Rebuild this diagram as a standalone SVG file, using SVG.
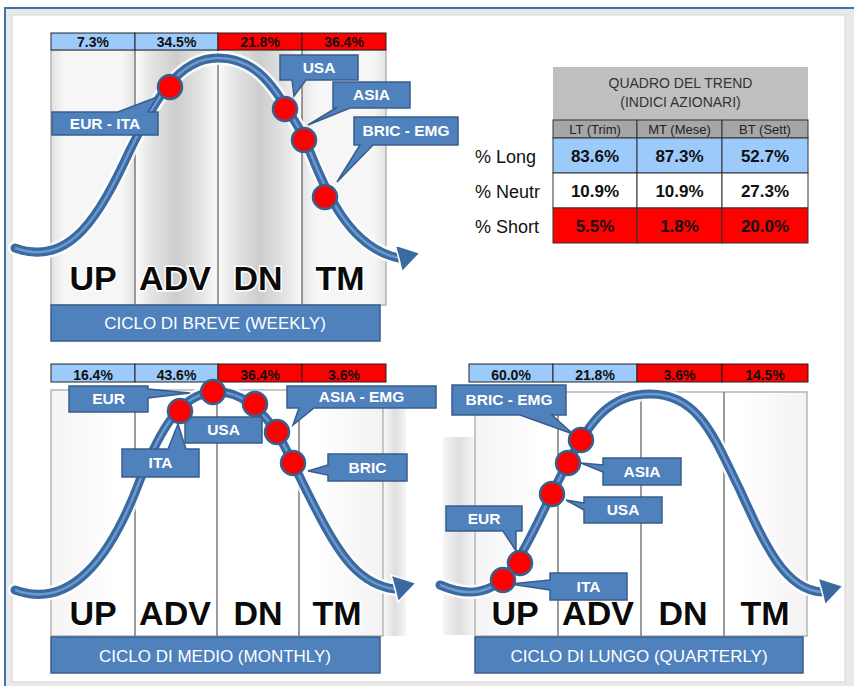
<svg xmlns="http://www.w3.org/2000/svg" width="854" height="686" viewBox="0 0 854 686">
<defs>
<linearGradient id="colG" x1="0" y1="0" x2="1" y2="0">
<stop offset="0" stop-color="#fbfbfb"/><stop offset="0.2" stop-color="#e4e4e4"/><stop offset="0.5" stop-color="#cdcdcd"/><stop offset="0.8" stop-color="#e4e4e4"/><stop offset="1" stop-color="#fbfbfb"/>
</linearGradient>
<linearGradient id="colL" x1="0" y1="0" x2="1" y2="0">
<stop offset="0" stop-color="#e2e2e2"/><stop offset="0.15" stop-color="#f6f6f6"/><stop offset="0.85" stop-color="#f6f6f6"/><stop offset="1" stop-color="#e2e2e2"/>
</linearGradient>
<linearGradient id="colW" x1="0" y1="0" x2="1" y2="0">
<stop offset="0" stop-color="#f4f4f4"/><stop offset="0.2" stop-color="#ffffff"/><stop offset="0.8" stop-color="#ffffff"/><stop offset="1" stop-color="#f2f2f2"/>
</linearGradient>
<linearGradient id="strip" x1="0" y1="0" x2="1" y2="0">
<stop offset="0" stop-color="#f4f4f4"/><stop offset="0.5" stop-color="#d6d6d6"/><stop offset="1" stop-color="#f4f4f4"/>
</linearGradient>
<style>
.pct{font-family:"Liberation Sans",Arial,sans-serif;font-weight:bold;font-size:14px;text-anchor:middle;fill:#111}
.blu{fill:#9ccbfb;stroke:#222;stroke-width:1}
.red{fill:#ff0000;stroke:#222;stroke-width:1}
.colLine{stroke:#7a7a7a;stroke-width:1.5}
.colOut{fill:none;stroke:#b5b5b5;stroke-width:1.5}
.phase{font-family:"Liberation Sans",Arial,sans-serif;font-weight:bold;font-size:34px;text-anchor:middle;fill:#0a0a0a;stroke:#ffffff;stroke-width:3;paint-order:stroke}
.title{fill:#4f81bd;stroke:#385d8a;stroke-width:1.5}
.tt{font-family:"Liberation Sans",Arial,sans-serif;font-size:17px;text-anchor:middle;fill:#ffffff}
.halo{fill:none;stroke:#ffffff;stroke-width:14;stroke-opacity:0.85;stroke-linecap:round}
.curve{fill:none;stroke:#3b6aa0;stroke-width:9;stroke-linecap:round}
.hi{fill:none;stroke:#6a98cf;stroke-width:2.5}
.head{fill:#3b6aa0;stroke:#ffffff;stroke-width:1.5;stroke-linejoin:round}
.co{fill:#4f81bd;stroke:#385d8a;stroke-width:1.5;stroke-linejoin:miter}
.cot{font-family:"Liberation Sans",Arial,sans-serif;font-weight:bold;font-size:15.5px;text-anchor:middle;fill:#ffffff}
.dot{fill:#ff0000;stroke:#34618f;stroke-width:2.5}
.tb{font-family:"Liberation Sans",Arial,sans-serif;font-size:14px;text-anchor:middle;fill:#333}
.ts{font-family:"Liberation Sans",Arial,sans-serif;font-size:13px;text-anchor:middle;fill:#222}
.tv{font-family:"Liberation Sans",Arial,sans-serif;font-weight:bold;font-size:17px;text-anchor:middle;fill:#111}
.tl{font-family:"Liberation Sans",Arial,sans-serif;font-size:18px;fill:#111}
.cell{stroke:#333;stroke-width:1}
</style>
</defs>

<!-- frame -->
<rect x="0" y="0" width="854" height="686" fill="#ffffff"/>
<rect x="5" y="8" width="870" height="700" fill="#e9e9e9" stroke="#4272a8" stroke-width="2"/>
<rect x="12" y="15" width="833" height="667" fill="#ffffff" stroke="#d4d4d4" stroke-width="1"/>

<!-- ===== Panel 1: weekly ===== -->
<g id="panel-weekly">
<rect x="51" y="50" width="84" height="255" fill="url(#colL)"/>
<rect x="135" y="50" width="83" height="255" fill="url(#colG)"/>
<rect x="218" y="50" width="84" height="255" fill="url(#colG)"/>
<rect x="302" y="50" width="84" height="255" fill="url(#colL)"/>
<rect x="51" y="50" width="335" height="255" class="colOut"/>
<line x1="135" y1="50" x2="135" y2="305" class="colLine"/>
<line x1="218" y1="50" x2="218" y2="305" class="colLine"/>
<line x1="302" y1="50" x2="302" y2="305" class="colLine"/>
<rect x="51" y="33" width="84" height="17" class="blu"/>
<rect x="135" y="33" width="83" height="17" class="blu"/>
<rect x="218" y="33" width="84" height="17" class="red"/>
<rect x="302" y="33" width="84" height="17" class="red"/>
<text x="93" y="47" class="pct">7.3%</text>
<text x="176.5" y="47" class="pct">34.5%</text>
<text x="260" y="47" class="pct">21.8%</text>
<text x="344" y="47" class="pct">36.4%</text>
<text x="93" y="290" class="phase">UP</text>
<text x="175" y="290" class="phase">ADV</text>
<text x="258" y="290" class="phase">DN</text>
<text x="340" y="290" class="phase">TM</text>
</g>
<g id="title-weekly">
<rect x="51" y="305" width="329" height="36" class="title"/>
<text x="215" y="329" class="tt">CICLO DI BREVE (WEEKLY)</text>
</g>

<!-- ===== Panel 2: monthly ===== -->
<g id="panel-monthly">
<rect x="384" y="402" width="22" height="234" fill="url(#strip)" opacity="0.8"/>
<rect x="51" y="390" width="332" height="246" fill="url(#colW)"/>
<rect x="51" y="390" width="332" height="246" class="colOut"/>
<line x1="135" y1="390" x2="135" y2="636" class="colLine"/>
<line x1="217" y1="390" x2="217" y2="636" class="colLine"/>
<line x1="299" y1="390" x2="299" y2="636" class="colLine"/>
<rect x="51" y="364" width="84" height="18" class="blu"/>
<rect x="135" y="364" width="83" height="18" class="blu"/>
<rect x="218" y="364" width="84" height="18" class="red"/>
<rect x="302" y="364" width="84" height="18" class="red"/>
<text x="93" y="380" class="pct">16.4%</text>
<text x="176.5" y="380" class="pct">43.6%</text>
<text x="260" y="380" class="pct">36.4%</text>
<text x="344" y="380" class="pct">3.6%</text>
<text x="93" y="625" class="phase">UP</text>
<text x="175" y="625" class="phase">ADV</text>
<text x="258" y="625" class="phase">DN</text>
<text x="337" y="625" class="phase">TM</text>
</g>
<g id="title-monthly">
<rect x="51" y="637" width="329" height="36" class="title"/>
<text x="215" y="662" class="tt">CICLO DI MEDIO (MONTHLY)</text>
</g>

<!-- ===== Panel 3: quarterly ===== -->
<g id="panel-quarterly">
<rect x="443" y="437" width="32" height="198" fill="url(#strip)" opacity="0.8"/>
<rect x="475" y="392" width="332" height="244" fill="url(#colW)"/>
<rect x="475" y="392" width="332" height="244" class="colOut"/>
<line x1="558" y1="392" x2="558" y2="636" class="colLine"/>
<line x1="641" y1="392" x2="641" y2="636" class="colLine"/>
<line x1="724" y1="392" x2="724" y2="636" class="colLine"/>
<rect x="469" y="364" width="84" height="18" class="blu"/>
<rect x="553" y="364" width="84" height="18" class="blu"/>
<rect x="637" y="364" width="85" height="18" class="red"/>
<rect x="722" y="364" width="86" height="18" class="red"/>
<text x="511" y="380" class="pct">60.0%</text>
<text x="595" y="380" class="pct">21.8%</text>
<text x="679.5" y="380" class="pct">3.6%</text>
<text x="765" y="380" class="pct">14.5%</text>
<text x="515" y="625" class="phase">UP</text>
<text x="598" y="625" class="phase">ADV</text>
<text x="683" y="625" class="phase">DN</text>
<text x="765" y="625" class="phase">TM</text>
</g>
<g id="title-quarterly">
<rect x="475" y="637" width="328" height="36" class="title"/>
<text x="639" y="662" class="tt">CICLO DI LUNGO (QUARTERLY)</text>
</g>

<!-- ===== Connectors: cycle curves ===== -->
<g id="connectors">
<path class="halo" d="M15,248 C70,268 100,215 130,150 C155,100 178,58 218,58 C258,58 275,88 300,130 C315,155 335,245 399,258"/>
<path class="curve" d="M15,248 C70,268 100,215 130,150 C155,100 178,58 218,58 C258,58 275,88 300,130 C315,155 335,245 399,258"/>
<path class="hi" d="M15,248 C70,268 100,215 130,150 C155,100 178,58 218,58 C258,58 275,88 300,130 C315,155 335,245 399,258"/>
<polygon class="head" points="420,253 395,245 399,259 402,272"/>

<path class="halo" d="M15,590 C70,610 110,560 140,480 C160,430 180,395 213,392 C240,390 262,410 277,433 C288,450 300,480 320,517 C340,555 360,585 395,589"/>
<path class="curve" d="M15,590 C70,610 110,560 140,480 C160,430 180,395 213,392 C240,390 262,410 277,433 C288,450 300,480 320,517 C340,555 360,585 395,589"/>
<path class="hi" d="M15,590 C70,610 110,560 140,480 C160,430 180,395 213,392 C240,390 262,410 277,433 C288,450 300,480 320,517 C340,555 360,585 395,589"/>
<polygon class="head" points="416,583 391,575 395,589 398,602"/>

<path class="halo" d="M440,585 C470,598 490,592 505,577 C525,555 545,505 565,468 C590,420 610,394 650,394 C700,394 715,440 740,490 C765,545 785,590 822,592"/>
<path class="curve" d="M440,585 C470,598 490,592 505,577 C525,555 545,505 565,468 C590,420 610,394 650,394 C700,394 715,440 740,490 C765,545 785,590 822,592"/>
<path class="hi" d="M440,585 C470,598 490,592 505,577 C525,555 545,505 565,468 C590,420 610,394 650,394 C700,394 715,440 740,490 C765,545 785,590 822,592"/>
<polygon class="head" points="843,586 818,578 822,592 825,605"/>
</g>

<!-- ===== Callouts ===== -->
<g id="w-eur-ita"><path class="co" d="M52,112 H118 L157,97 L148,112 H158 V135 H52 Z"/><text x="105" y="129" class="cot">EUR - ITA</text></g>
<g id="w-usa"><path class="co" d="M280,55 H358 V80 H306 L294,96 L292,80 H280 Z"/><text x="319" y="73" class="cot">USA</text></g>
<g id="w-asia"><path class="co" d="M333,82 H410 V108 H350 L308,125 L336,108 H333 Z"/><text x="371.5" y="100" class="cot">ASIA</text></g>
<g id="w-bric-emg"><path class="co" d="M354,117 H458 V145 H373 L337,182 L360,145 H354 Z"/><text x="406" y="136" class="cot">BRIC - EMG</text></g>

<g id="m-eur"><path class="co" d="M69,386 H148 V389 L190,393 L148,398 V412 H69 Z"/><text x="108.5" y="404" class="cot">EUR</text></g>
<g id="m-ita"><path class="co" d="M122,449 H168 L178,424 L186,449 H199 V477 H122 Z"/><text x="160.5" y="468" class="cot">ITA</text></g>
<g id="m-usa"><path class="co" d="M185,417 H262 V443 H185 Z"/><text x="223.5" y="435" class="cot">USA</text></g>
<g id="m-asia-emg"><path class="co" d="M287,386 H436 V408 H314 L293,425 L299,408 H287 Z"/><text x="361.5" y="402" class="cot">ASIA - EMG</text></g>
<g id="m-bric"><path class="co" d="M328,454 H407 V481 H328 V475 L308,471 L328,465 Z"/><text x="367.5" y="473" class="cot">BRIC</text></g>

<g id="q-bric-emg"><path class="co" d="M452,385 H566 V415 H552 L573,434 L520,415 H452 Z"/><text x="509" y="405" class="cot">BRIC - EMG</text></g>
<g id="q-asia"><path class="co" d="M603,458 H681 V485 H603 V472 L581,463 L603,465 Z"/><text x="642" y="477" class="cot">ASIA</text></g>
<g id="q-usa"><path class="co" d="M584,497 H662 V523 H584 V510 L566,500 L584,503 Z"/><text x="623" y="515" class="cot">USA</text></g>
<g id="q-eur"><path class="co" d="M446,506 H522 V531 H516 L516,551 L503,531 H446 Z"/><text x="484" y="524" class="cot">EUR</text></g>
<g id="q-ita"><path class="co" d="M550,573 H627 V600 H550 V590 L510,584 L550,580 Z"/><text x="588.5" y="592" class="cot">ITA</text></g>

<!-- ===== Dots ===== -->
<g id="dots-weekly">
<circle class="dot" cx="170" cy="87" r="12"/>
<circle class="dot" cx="285" cy="109" r="12"/>
<circle class="dot" cx="304" cy="140" r="12"/>
<circle class="dot" cx="325" cy="197" r="12"/>
</g>
<g id="dots-monthly">
<circle class="dot" cx="213" cy="392" r="12"/>
<circle class="dot" cx="180" cy="411" r="12"/>
<circle class="dot" cx="255" cy="404" r="12"/>
<circle class="dot" cx="277" cy="432" r="12"/>
<circle class="dot" cx="293" cy="463" r="12"/>
</g>
<g id="dots-quarterly">
<circle class="dot" cx="581" cy="440" r="12"/>
<circle class="dot" cx="568" cy="463" r="12"/>
<circle class="dot" cx="552" cy="494" r="12"/>
<circle class="dot" cx="520" cy="563" r="12"/>
<circle class="dot" cx="503" cy="580" r="12"/>
</g>

<!-- ===== Trend table ===== -->
<g id="trend-table">
<rect x="553" y="67" width="255" height="53" fill="#bfbfbf"/>
<text x="680.5" y="88" class="tb">QUADRO DEL TREND</text>
<text x="680.5" y="107" class="tb">(INDICI AZIONARI)</text>
<rect x="553" y="120" width="84" height="18" fill="#a6a6a6" class="cell"/>
<rect x="637" y="120" width="85" height="18" fill="#a6a6a6" class="cell"/>
<rect x="722" y="120" width="86" height="18" fill="#a6a6a6" class="cell"/>
<text x="595" y="134" class="ts">LT (Trim)</text>
<text x="679.5" y="134" class="ts">MT (Mese)</text>
<text x="765" y="134" class="ts">BT (Sett)</text>
<rect x="553" y="138" width="84" height="35" fill="#9ccbfb" class="cell"/>
<rect x="637" y="138" width="85" height="35" fill="#9ccbfb" class="cell"/>
<rect x="722" y="138" width="86" height="35" fill="#9ccbfb" class="cell"/>
<rect x="553" y="173" width="84" height="35" fill="#ffffff" class="cell"/>
<rect x="637" y="173" width="85" height="35" fill="#ffffff" class="cell"/>
<rect x="722" y="173" width="86" height="35" fill="#ffffff" class="cell"/>
<rect x="553" y="208" width="84" height="35" fill="#ff0000" class="cell"/>
<rect x="637" y="208" width="85" height="35" fill="#ff0000" class="cell"/>
<rect x="722" y="208" width="86" height="35" fill="#ff0000" class="cell"/>
<text x="475" y="163" class="tl">% Long</text>
<text x="475" y="198" class="tl">% Neutr</text>
<text x="475" y="233" class="tl">% Short</text>
<text x="595" y="162" class="tv">83.6%</text>
<text x="679.5" y="162" class="tv">87.3%</text>
<text x="765" y="162" class="tv">52.7%</text>
<text x="595" y="197" class="tv">10.9%</text>
<text x="679.5" y="197" class="tv">10.9%</text>
<text x="765" y="197" class="tv">27.3%</text>
<text x="595" y="232" class="tv">5.5%</text>
<text x="679.5" y="232" class="tv">1.8%</text>
<text x="765" y="232" class="tv">20.0%</text>
</g>
</svg>
